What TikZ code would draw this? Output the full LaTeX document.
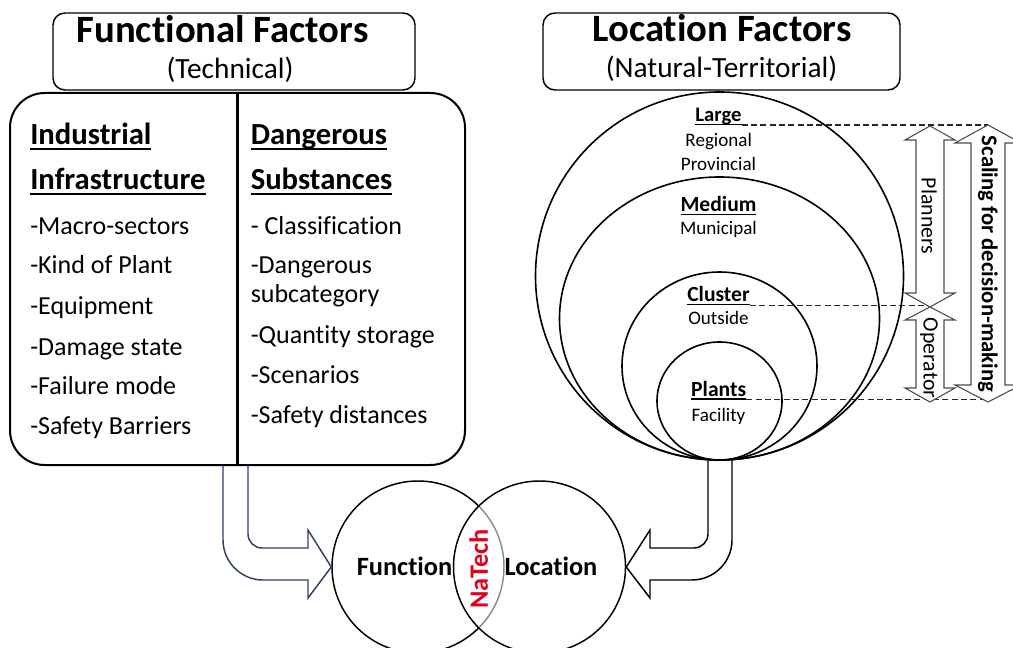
\documentclass[tikz,border=0pt]{standalone}
\usepackage{fontspec}
\setmainfont{Carlito}[Ligatures=NoCommon]
\usetikzlibrary{calc}
\definecolor{flownavy}{RGB}{46,64,104}
\definecolor{natechred}{RGB}{226,0,26}
% underline that keeps a fixed distance below the baseline
\newcommand{\ulword}[1]{\setbox0\hbox{#1}\rlap{\rule[-0.17em]{\wd0}{0.065em}}\box0}

\begin{document}
\begin{tikzpicture}[x=0.75pt,y=-0.75pt,
  titlebox/.style={draw, line width=1.1pt, rounded corners=9pt, minimum height=57.75pt, inner sep=0pt},
  titletext/.style={font=\fontsize{29}{32}\selectfont\bfseries, inner sep=0pt, anchor=base},
  subtext/.style={font=\fontsize{22}{24}\selectfont, inner sep=0pt, anchor=base},
  colhead/.style={font=\fontsize{23}{26}\selectfont\bfseries, inner sep=0pt, anchor=base west},
  colitem/.style={font=\fontsize{19.5}{22}\selectfont, inner sep=0pt, anchor=base west},
  level/.style={font=\fontsize{16.2}{18}\selectfont\bfseries, inner sep=0pt, anchor=base},
  levelsub/.style={font=\fontsize{14.3}{16}\selectfont, inner sep=0pt, anchor=base},
  ring/.style={draw, line width=1.2pt},
  guide/.style={draw=black!85, line width=0.9pt, dash pattern=on 4.5pt off 2.5pt},
  bar/.style={draw=black!70, fill=white, line width=0.8pt, line join=miter},
  bartext/.style={font=\fontsize{16.4}{18}\selectfont, inner sep=0pt, rotate=-90},
  venn/.style={circle, draw, line width=1.1pt, minimum size=129pt, inner sep=0pt},
  venntext/.style={font=\fontsize{19.8}{22}\selectfont\bfseries, inner sep=0pt, anchor=base},
  flow/.style={line width=1.1pt, line join=miter}
]
\useasboundingbox (0,0) rectangle (1013,648);
\clip (0,0) rectangle (1013,648);

% ---------- Functional factors ----------
\node[titlebox, minimum width=271.5pt] (fbox) at (234,51.5) {};
\node[titletext] (ftitle) at (222.5,42.5) {Functional Factors};
\node[subtext] (fsub) at (230,79) {(Technical)};

\node[draw, line width=1.5pt, rounded corners=26pt, minimum width=341.25pt,
      minimum height=279pt, inner sep=0pt] (funcbox) at (237.5,279) {};
\draw[line width=1.8pt] (funcbox.north) -- (funcbox.south);

\node[colhead] (ind1) at (30,145) {\ulword{Industrial}};
\node[colhead] (ind2) at (30,190) {\ulword{Infrastructure}};
\node[colitem] (i1) at (30,235) {-Macro-sectors};
\node[colitem] (i2) at (30,274) {-Kind of Plant};
\node[colitem] (i3) at (30,315) {-Equipment};
\node[colitem] (i4) at (30,355) {-Damage state};
\node[colitem] (i5) at (30,394) {-Failure mode};
\node[colitem] (i6) at (30,434) {-Safety Barriers};

\node[colhead] (ds1) at (250.5,145) {\ulword{Dangerous}};
\node[colhead] (ds2) at (250.5,190) {\ulword{Substances}};
\node[colitem] (d1) at (250.5,235) {- Classification};
\node[colitem] (d2) at (250.5,274) {-Dangerous};
\node[colitem] (d2b) at (250.5,303) {subcategory};
\node[colitem] (d3) at (250.5,344) {-Quantity storage};
\node[colitem] (d4) at (250.5,383) {-Scenarios};
\node[colitem] (d5) at (250.5,423) {-Safety distances};

% ---------- Location factors ----------
\node[titlebox, minimum width=267.75pt] (lbox) at (721.5,51.5) {};
\node[titletext] (ltitle) at (722,42) {Location Factors};
\node[subtext] (lsub) at (721.5,78) {(Natural-Territorial)};

\draw[ring] (719.5,276) circle[radius=184];
\draw[ring] (719.5,318.5) ellipse[x radius=160, y radius=141.5];
\draw[ring] (719.5,366) ellipse[x radius=97.5, y radius=94];
\draw[ring] (719.5,401) ellipse[x radius=62.5, y radius=59];

\node[level, font=\fontsize{15.5}{17}\selectfont\bfseries] (lg) at (718.5,121.7) {\ulword{Large}};
\node[levelsub] (lg1) at (718.7,146.7) {Regional};
\node[levelsub] (lg2) at (718.5,170.7) {Provincial};
\node[level] (md) at (718.5,211.7) {\ulword{Medium}};
\node[levelsub] (md1) at (718.5,235) {Municipal};
\node[level] (cl) at (718.5,301.7) {\ulword{Cluster}};
\node[levelsub] (cl1) at (718.5,325) {Outside};
\node[level] (pl) at (718.7,396) {\ulword{Plants}};
\node[levelsub] (pl1) at (718.5,421.7) {Facility};

% guide lines from the scale labels to the arrows
\coordinate (scaleTop) at (988,125);
\coordinate (split) at (930,307);
\coordinate (scaleBot) at (988,402);
\draw[guide] ($(lg.base east)+(0,3.4)$) coordinate (lgU) -- (lgU -| scaleTop);
\draw[guide] ($(cl.base east)+(0,3.6)$) coordinate (clU) -- (clU -| split);
\draw[guide] ($(pl.base east)+(0,3.6)$) coordinate (plU) -- (plU -| scaleBot);

% double arrows
\draw[bar] (930,126) -- (955,140) -- (944,140) -- (944,293) -- (955,293) -- (split)
  -- (905,293) -- (916,293) -- (916,140) -- (905,140) -- cycle;
\draw[bar] (split) -- (955,320) -- (944,320) -- (944,388) -- (955,388) -- (930,402)
  -- (905,388) -- (916,388) -- (916,320) -- (905,320) -- cycle;
\draw[bar] (scaleTop) -- (1021,143) -- (1005,143) -- (1005,385) -- (1021,385) -- (scaleBot)
  -- (955,385) -- (971,385) -- (971,143) -- (955,143) -- cycle;
\node[bartext] (plan) at (929,216) {Planners};
\node[bartext] (oper) at (929,358) {Operator};
\node[bartext, font=\fontsize{17}{19}\selectfont\bfseries] (scal) at (988,264) {Scaling for decision-making};

% ---------- NaTech intersection ----------
\node[venn] (fn) at (418,567) {};
\node[venn, fill=white, fill opacity=0.55] (loc) at (539.5,567) {};
\node[venntext] (fntext) at (404.5,575) {Function};
\node[venntext] (loctext) at (551,575) {Location};
\node[venntext, anchor=center, rotate=90, text=natechred] (nat) at (478.6,569) {NaTech};

% block arrows feeding the two circles
\coordinate (fa) at ($(funcbox.south)+(-14.5,0)$);
\coordinate (fb) at ($(funcbox.south)+(10.5,0)$);
\draw[flow, draw=flownavy] (fa) -- (223,540) .. controls (223,562) and (241,580) .. (263,580)
  -- (308,580) -- (308,598) -- (fn.west) -- (308,530) -- (308,548) -- (262,548)
  .. controls (254.3,548) and (248,541.7) .. (248,534) -- (fb);

\coordinate (ra) at (732,460);
\coordinate (rb) at (708,460);
\draw[flow] (ra) -- (732,540) .. controls (732,562) and (714,580) .. (692,580)
  -- (650,580) -- (650,598) -- (loc.east) -- (650,530) -- (650,548) -- (694,548)
  .. controls (701.7,548) and (708,541.7) .. (708,534) -- (rb);
\end{tikzpicture}
\end{document}
